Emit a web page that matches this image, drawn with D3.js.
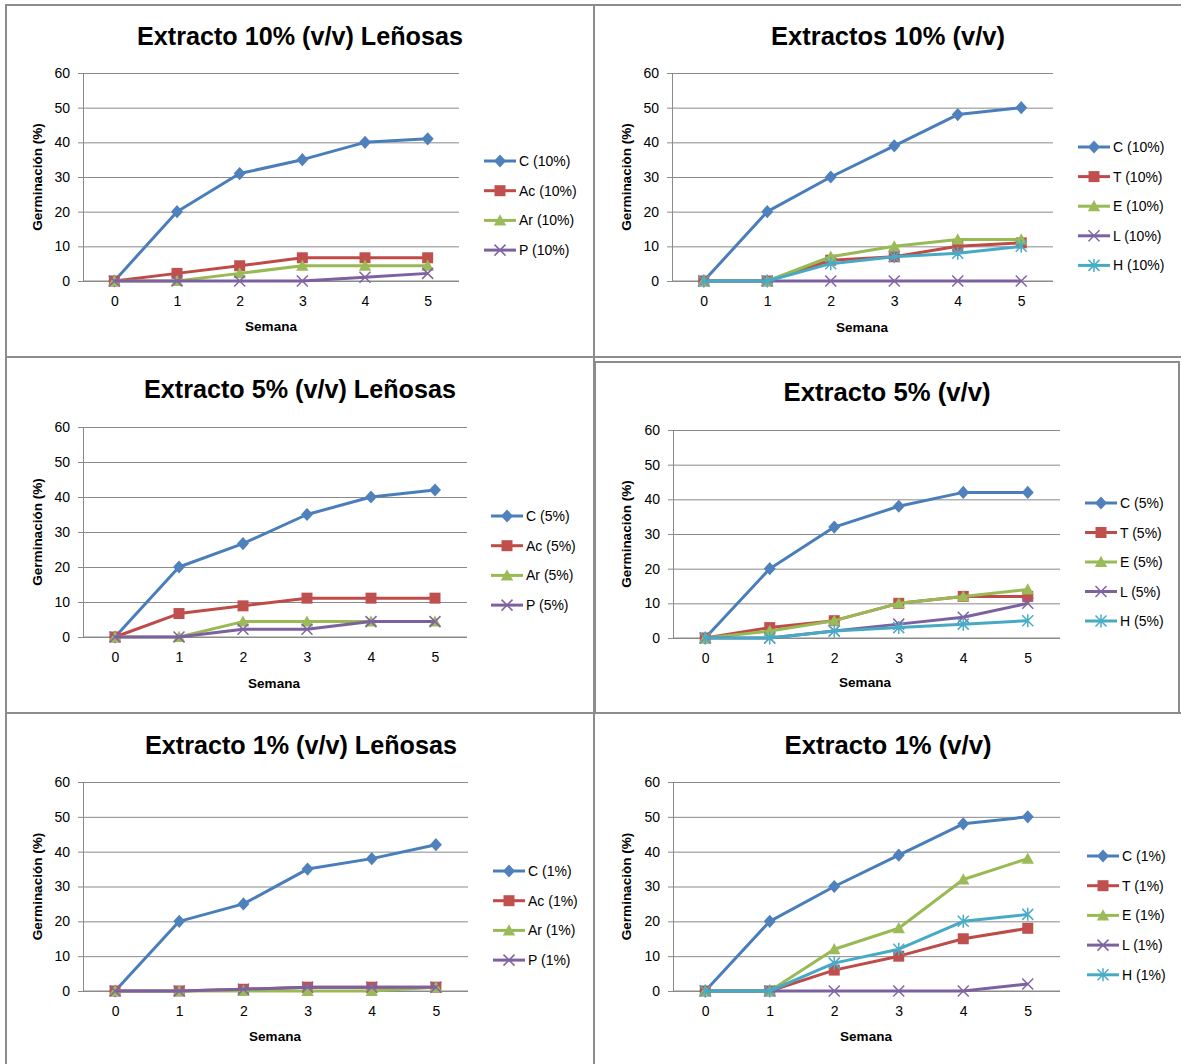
<!DOCTYPE html>
<html>
<head>
<meta charset="utf-8">
<script src="https://cdn.jsdelivr.net/npm/d3@7/dist/d3.min.js"></script>
<style>
  html, body { margin: 0; padding: 0; background: #fff; }
  svg { display: block; }
  text { font-family: "Liberation Sans", Arial, sans-serif; fill: #000; }
</style>
</head>
<body>
<svg id="chart" width="1181" height="1064"></svg>
<script>
// Weeks and axis ticks shared by all six charts
const weeks = [0, 1, 2, 3, 4, 5];
const yTicks = [0, 10, 20, 30, 40, 50, 60];

// Extracto 10% (v/v) Leñosas
const c10L  = [0, 20, 31, 35, 40, 41];
const ac10L = [0, 2.2, 4.4, 6.7, 6.7, 6.7];
const ar10L = [0, 0, 2.2, 4.4, 4.4, 4.4];
const p10L  = [0, 0, 0, 0, 1.1, 2.2];

// Extractos 10% (v/v)
const c10 = [0, 20, 30, 39, 48, 50];
const t10 = [0, 0, 6, 7, 10, 11];
const e10 = [0, 0, 7, 10, 12, 12];
const l10 = [0, 0, 0, 0, 0, 0];
const h10 = [0, 0, 5, 7, 8, 10];

// Extracto 5% (v/v) Leñosas
const c5L  = [0, 20, 26.7, 35, 40, 42];
const ac5L = [0, 6.7, 8.9, 11.1, 11.1, 11.1];
const ar5L = [0, 0, 4.4, 4.4, 4.4, 4.4];
const p5L  = [0, 0, 2.2, 2.2, 4.4, 4.4];

// Extracto 5% (v/v)
const c5 = [0, 20, 32, 38, 42, 42];
const t5 = [0, 3, 5, 10, 12, 12];
const e5 = [0, 2, 5, 10, 12, 14];
const l5 = [0, 0, 2, 4, 6, 10];
const h5 = [0, 0, 2, 3, 4, 5];

// Extracto 1% (v/v) Leñosas
const c1L  = [0, 20, 25, 35, 38, 42];
const ac1L = [0, 0, 0.5, 1.1, 1.1, 1.1];
const ar1L = [0, 0, 0, 0, 0, 1.1];
const p1L  = [0, 0, 0.5, 1.1, 1.1, 1.1];

// Extracto 1% (v/v)
const c1 = [0, 20, 30, 39, 48, 50];
const t1 = [0, 0, 6, 10, 15, 18];
const e1 = [0, 0, 12, 18, 32, 38];
const l1 = [0, 0, 0, 0, 0, 2];
const h1 = [0, 0, 8, 12, 20, 22];

// Series styles (Office palette)
const styles = {
  C:  { line: "#4A7EBB", fill: "#4F81BD", marker: "diamond" },
  Ac: { line: "#BE4B48", fill: "#C0504D", marker: "square" },
  T:  { line: "#BE4B48", fill: "#C0504D", marker: "square" },
  Ar: { line: "#98B954", fill: "#9BBB59", marker: "triangle" },
  E:  { line: "#98B954", fill: "#9BBB59", marker: "triangle" },
  P:  { line: "#7D60A0", fill: "#8064A2", marker: "x" },
  L:  { line: "#7D60A0", fill: "#8064A2", marker: "x" },
  H:  { line: "#46AAC5", fill: "#4BACC6", marker: "star" }
};

const panels = [
  { box: [6, 5, 588, 352], title: "Extracto 10% (v/v) Leñosas", titleW: 326, tx: 300, ty: 45,
    x0: 83, x1: 459, yTop: 73, yBot: 281, ylab: "Germinación (%)", ylx: 42, sx: 271, sy: 331,
    lx: 484, ly: 161, ldy: 29.7, pct: "10%",
    series: [["C", c10L], ["Ac", ac10L], ["Ar", ar10L], ["P", p10L]] },
  { box: [594, 5, 590, 352], title: "Extractos 10% (v/v)", titleW: 234, tx: 888, ty: 45,
    x0: 672, x1: 1053, yTop: 73, yBot: 281, ylab: "Germinaciòn (%)", ylx: 631, sx: 862, sy: 332,
    lx: 1078, ly: 147, ldy: 29.6, pct: "10%",
    series: [["C", c10], ["T", t10], ["E", e10], ["L", l10], ["H", h10]] },
  { box: [6, 357, 588, 356], title: "Extracto 5% (v/v) Leñosas", titleW: 312, tx: 300, ty: 398,
    x0: 83, x1: 467, yTop: 427, yBot: 637, ylab: "Germinación (%)", ylx: 42, sx: 274, sy: 688,
    lx: 491, ly: 516, ldy: 29.7, pct: "5%",
    series: [["C", c5L], ["Ac", ac5L], ["Ar", ar5L], ["P", p5L]] },
  { box: [595, 362, 584, 351], title: "Extracto 5% (v/v)", titleW: 207, tx: 887, ty: 401,
    x0: 673, x1: 1060, yTop: 430, yBot: 638, ylab: "Germinaciòn (%)", ylx: 631, sx: 865, sy: 687,
    lx: 1085, ly: 503, ldy: 29.5, pct: "5%",
    series: [["C", c5], ["T", t5], ["E", e5], ["L", l5], ["H", h5]] },
  { box: [6, 713, 588, 360], title: "Extracto 1% (v/v) Leñosas", titleW: 312, tx: 301, ty: 754,
    x0: 83, x1: 468, yTop: 782, yBot: 991, ylab: "Germinación (%)", ylx: 42, sx: 275, sy: 1041,
    lx: 493, ly: 871, ldy: 29.7, pct: "1%",
    series: [["C", c1L], ["Ac", ac1L], ["Ar", ar1L], ["P", p1L]] },
  { box: [594, 713, 590, 360], title: "Extracto 1% (v/v)", titleW: 207, tx: 888, ty: 754,
    x0: 673, x1: 1060, yTop: 782, yBot: 991, ylab: "Germinaciòn (%)", ylx: 631, sx: 866, sy: 1041,
    lx: 1087, ly: 856, ldy: 29.7, pct: "1%",
    series: [["C", c1], ["T", t1], ["E", e1], ["L", l1], ["H", h1]] }
];

const svg = d3.select("#chart");
const gridColor = "#8a8a8a";

// Marker shapes centred on the origin
function markerPath(kind) {
  switch (kind) {
    case "diamond": return "M0,-6.6L6,0L0,6.6L-6,0Z";
    case "square": return "M-5.5,-5.5H5.5V5.5H-5.5Z";
    case "triangle": return "M0,-6.2L6.2,5H-6.2Z";
    case "x": return "M-5.5,-5.5L5.5,5.5M-5.5,5.5L5.5,-5.5";
    case "star": return "M-5.5,-5.5L5.5,5.5M-5.5,5.5L5.5,-5.5M0,-6.5V6.5";
  }
}

function drawMarker(g, kind, st, x, y) {
  const stroked = kind === "x" || kind === "star";
  g.append("path")
    .attr("d", markerPath(kind))
    .attr("transform", `translate(${x},${y})`)
    .attr("fill", stroked ? "none" : st.fill)
    .attr("stroke", stroked ? st.fill : "none")
    .attr("stroke-width", stroked ? 1.5 : 0);
}

panels.forEach(p => {
  const g = svg.append("g");

  // Chart frame
  g.append("rect")
    .attr("x", p.box[0]).attr("y", p.box[1])
    .attr("width", p.box[2]).attr("height", p.box[3])
    .attr("fill", "#fff").attr("stroke", "#8c8c8c").attr("stroke-width", 2);

  const x = d3.scalePoint().domain(weeks).range([p.x0, p.x1]).padding(0.5);
  const y = d3.scaleLinear().domain([0, 60]).range([p.yBot, p.yTop]);

  // Horizontal gridlines
  const grid = g.append("g")
    .attr("transform", `translate(${p.x0},0)`)
    .call(d3.axisRight(y).tickValues(yTicks).tickSize(p.x1 - p.x0).tickFormat(""));
  grid.select(".domain").remove();
  grid.selectAll("line").attr("stroke", gridColor).attr("stroke-width", 1);

  // Y axis with outward tick marks
  const ya = g.append("g")
    .attr("transform", `translate(${p.x0},0)`)
    .call(d3.axisLeft(y).tickValues(yTicks).tickSize(5).tickSizeOuter(0).tickPadding(8));
  ya.select(".domain").attr("stroke", gridColor);
  ya.selectAll("line").attr("stroke", gridColor);
  ya.selectAll("text").attr("font-size", 14).attr("font-family", "Liberation Sans, Arial, sans-serif").attr("fill", "#000");

  // X axis (category labels only)
  const xa = g.append("g")
    .attr("transform", `translate(0,${p.yBot})`)
    .call(d3.axisBottom(x).tickSize(0).tickPadding(15));
  xa.select(".domain").attr("stroke", gridColor).attr("d", `M${p.x0},0H${p.x1}`);
  xa.selectAll("text").attr("font-size", 14).attr("font-family", "Liberation Sans, Arial, sans-serif").attr("fill", "#000");

  // Titles
  g.append("text")
    .attr("x", p.tx).attr("y", p.ty)
    .attr("text-anchor", "middle")
    .attr("font-size", 25).attr("font-weight", "bold")
    .attr("textLength", p.titleW).attr("lengthAdjust", "spacingAndGlyphs")
    .text(p.title);

  g.append("text")
    .attr("x", p.sx).attr("y", p.sy)
    .attr("text-anchor", "middle")
    .attr("font-size", 13.5).attr("font-weight", "bold")
    .text("Semana");

  g.append("text")
    .attr("transform", `translate(${p.ylx},${(p.yTop + p.yBot) / 2}) rotate(-90)`)
    .attr("text-anchor", "middle")
    .attr("font-size", 13.5).attr("font-weight", "bold")
    .text(p.ylab);

  // Series lines then markers
  const line = d3.line().x((d, i) => x(weeks[i])).y(d => y(d));
  p.series.forEach(([name, vals]) => {
    const st = styles[name];
    g.append("path")
      .datum(vals)
      .attr("d", line)
      .attr("fill", "none")
      .attr("stroke", st.line)
      .attr("stroke-width", 3)
      .attr("stroke-linejoin", "round");
    vals.forEach((v, i) => drawMarker(g, st.marker, st, x(weeks[i]), y(v)));
  });

  // Legend
  p.series.forEach(([name], i) => {
    const st = styles[name];
    const ly = p.ly + i * p.ldy;
    g.append("line")
      .attr("x1", p.lx).attr("x2", p.lx + 32)
      .attr("y1", ly).attr("y2", ly)
      .attr("stroke", st.line).attr("stroke-width", 3);
    drawMarker(g, st.marker, st, p.lx + 16, ly);
    g.append("text")
      .attr("x", p.lx + 35).attr("y", ly + 5)
      .attr("font-size", 14)
      .text(`${name} (${p.pct})`);
  });
});
</script>
</body>
</html>
